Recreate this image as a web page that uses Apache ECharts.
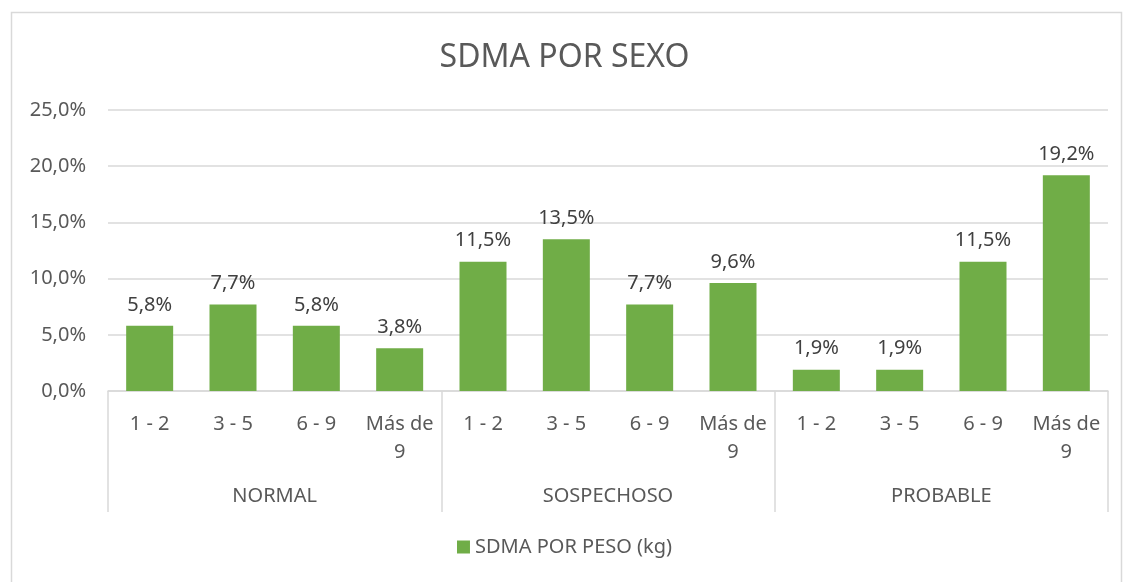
<!DOCTYPE html>
<html>
<head>
<meta charset="utf-8">
<script src="https://cdn.jsdelivr.net/npm/echarts@6/dist/echarts.min.js"></script>
<style>
  html, body { margin: 0; padding: 0; background: #fff; }
  #chart { width: 1129px; height: 582px; }
</style>
</head>
<body>
<div id="chart"></div>
<script>
var rangos = ['1 - 2', '3 - 5', '6 - 9', 'Más de\n9',
              '1 - 2', '3 - 5', '6 - 9', 'Más de\n9',
              '1 - 2', '3 - 5', '6 - 9', 'Más de\n9'];
var grupos = ['NORMAL', 'SOSPECHOSO', 'PROBABLE'];
var valores = [5.8, 7.7, 5.8, 3.8, 11.5, 13.5, 7.7, 9.6, 1.9, 1.9, 11.5, 19.2];
var serieNombre = 'SDMA POR PESO (kg)';

var fuente = "'Noto Sans', sans-serif";
var gris = '#595959';
var linea = '#d9d9d9';

function pct(v) {
    return v.toFixed(1).replace('.', ',') + '%';
}

var chart = echarts.init(document.getElementById('chart'));

var option = {
    animation: false,
    textStyle: { fontFamily: fuente },
    title: {
        text: 'SDMA POR SEXO',
        left: 'center',
        top: 37,
        textStyle: { fontFamily: fuente, fontSize: 32, fontWeight: 'normal', color: gris }
    },
    graphic: [{
        type: 'rect',
        left: 9, top: 10,
        shape: { width: 1110, height: 580 },
        style: { fill: 'none', stroke: linea, lineWidth: 1.5 },
        silent: true
    }],
    legend: {
        data: [serieNombre],
        bottom: 20,
        left: 'center',
        icon: 'rect',
        itemWidth: 13,
        itemHeight: 13,
        textStyle: { fontFamily: fuente, fontSize: 20, color: gris }
    },
    grid: {
        left: 108,
        right: 21,
        top: 110,
        bottom: 191,
        containLabel: false
    },
    xAxis: [{
        type: 'category',
        data: rangos,
        position: 'bottom',
        axisLine: { show: true, lineStyle: { color: linea, width: 1.5 } },
        axisTick: { show: false },
        axisLabel: {
            interval: 0,
            margin: 19,
            fontFamily: fuente,
            fontSize: 20,
            lineHeight: 28,
            color: gris
        }
    }, {
        type: 'category',
        data: grupos,
        position: 'bottom',
        axisLine: { show: false },
        axisTick: { show: true, length: 121, lineStyle: { color: linea, width: 1.5 } },
        axisLabel: {
            interval: 0,
            margin: 95,
            fontFamily: fuente,
            fontSize: 20,
            color: gris
        }
    }],
    yAxis: {
        type: 'value',
        min: 0,
        max: 25,
        interval: 5,
        axisLine: { show: false },
        axisTick: { show: false },
        axisLabel: {
            margin: 22,
            fontFamily: fuente,
            fontSize: 20,
            color: gris,
            formatter: function (v) { return pct(v); }
        },
        splitLine: { lineStyle: { color: linea, width: 1.5 } }
    },
    series: [{
        name: serieNombre,
        type: 'bar',
        xAxisIndex: 0,
        barWidth: 47,
        itemStyle: { color: '#70AD47' },
        label: {
            show: true,
            position: 'top',
            distance: 11,
            fontFamily: fuente,
            fontSize: 20,
            color: '#404040',
            formatter: function (p) { return pct(p.value); }
        },
        data: valores
    }]
};

chart.setOption(option);
</script>
</body>
</html>
